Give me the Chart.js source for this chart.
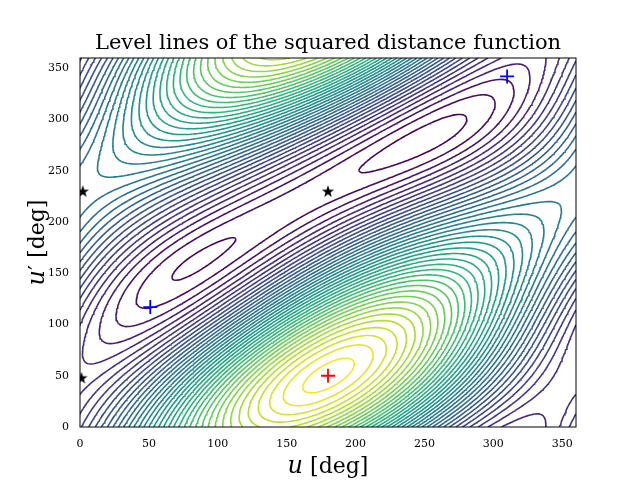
<!DOCTYPE html>
<html><head><meta charset="utf-8">
<script src="https://cdn.jsdelivr.net/npm/chart.js@4"></script>
<style>html,body{margin:0;background:#fff}#c{width:640px;height:480px}</style>
</head><body><div id="c"><canvas id="cv"></canvas></div>
<script>
// orbit parameters: a, e, omega [deg], inclination [deg]
const orbitA = [1.0, 0.2, 0, 0];
const orbitB = [1.3, 0.35, 92, 24];
const levelCount = 40;
const gridStep = 2;
const tickValues = [0, 50, 100, 150, 200, 250, 300, 350];
const blueCrosses = [{x: 51, y: 117}, {x: 310, y: 342}];
const redCrosses = [{x: 180, y: 50}];
const blackStars = [{x: 2, y: 230}, {x: 180, y: 230}, {x: 1, y: 48}];
const viridis = ['#440154','#482878','#3e4989','#31688e','#26828e','#1f9e89','#35b779','#6ece58','#b5de2b','#fde725'];

const rad = Math.PI / 180;
function pos(o, E) {
  const [a, e, om, inc] = o;
  const x = a * (Math.cos(E * rad) - e), y = a * Math.sqrt(1 - e * e) * Math.sin(E * rad);
  const xr = x * Math.cos(om * rad) - y * Math.sin(om * rad);
  const yr = x * Math.sin(om * rad) + y * Math.cos(om * rad);
  return [xr, yr * Math.cos(inc * rad), yr * Math.sin(inc * rad)];
}
function rawDist2(u, v) {
  const p = pos(orbitA, u), q = pos(orbitB, v);
  return (p[0]-q[0])**2 + (p[1]-q[1])**2 + (p[2]-q[2])**2;
}
// anomaly origin: put the maximum where the red cross is
let best = -1, bu = 0, bv = 0;
for (let u = 0; u < 360; u += 1) for (let v = 0; v < 360; v += 1) {
  const d = rawDist2(u, v); if (d > best) { best = d; bu = u; bv = v; }
}
const offU = bu - redCrosses[0].x, offV = bv - redCrosses[0].y;
const dist2 = (u, v) => rawDist2(u + offU, v + offV);

function hex(h){return [1,3,5].map(i=>parseInt(h.substr(i,2),16));}
function cmap(t){
  const s = t * (viridis.length - 1), i = Math.min(Math.floor(s), viridis.length - 2), f = s - i;
  const a = hex(viridis[i]), b = hex(viridis[i+1]);
  return 'rgb(' + a.map((c,k)=>Math.round(c + (b[k]-c)*f)).join(',') + ')';
}

const n = 360 / gridStep + 1;
const G = [];
let fmin = Infinity, fmax = -Infinity;
for (let j = 0; j < n; j++) { G.push([]); for (let i = 0; i < n; i++) {
  const v = dist2(i * gridStep, j * gridStep); G[j].push(v);
  fmin = Math.min(fmin, v); fmax = Math.max(fmax, v);
}}

function contour(L) {
  const pts = [];
  const ip = (x1,y1,v1,x2,y2,v2) => { const t = (L - v1) / (v2 - v1); return {x: x1 + (x2-x1)*t, y: y1 + (y2-y1)*t}; };
  for (let j = 0; j < n - 1; j++) for (let i = 0; i < n - 1; i++) {
    const x0 = i*gridStep, y0 = j*gridStep, x1 = x0+gridStep, y1 = y0+gridStep;
    const a = G[j][i], b = G[j][i+1], c = G[j+1][i+1], d = G[j+1][i];
    const e = [];
    if ((a < L) !== (b < L)) e.push(ip(x0,y0,a,x1,y0,b));
    if ((b < L) !== (c < L)) e.push(ip(x1,y0,b,x1,y1,c));
    if ((c < L) !== (d < L)) e.push(ip(x1,y1,c,x0,y1,d));
    if ((d < L) !== (a < L)) e.push(ip(x0,y1,d,x0,y0,a));
    for (let k = 0; k + 1 < e.length; k += 2) { pts.push(e[k], e[k+1], {x: null, y: null}); }
  }
  return pts;
}

const datasets = [];
for (let k = 0; k < levelCount; k++) {
  const t = (k + 0.5) / levelCount;
  datasets.push({type: 'line', data: contour(fmin + t * (fmax - fmin)), borderColor: cmap(t),
    borderWidth: 1.6, pointRadius: 0, spanGaps: false, parsing: false, order: 5});
}

function starImg() {
  const c = document.createElement('canvas'); c.width = c.height = 14;
  const g = c.getContext('2d'); g.fillStyle = '#000'; g.beginPath();
  for (let k = 0; k < 10; k++) {
    const r = k % 2 ? 2.6 : 6.5, a = -Math.PI/2 + k * Math.PI / 5;
    g.lineTo(7 + r*Math.cos(a), 7.5 + r*Math.sin(a));
  }
  g.closePath(); g.fill(); return c;
}
datasets.push({type: 'scatter', data: blueCrosses, pointStyle: 'cross', pointRadius: 7, borderColor: '#0000ff', borderWidth: 1.8, order: 1});
datasets.push({type: 'scatter', data: redCrosses, pointStyle: 'cross', pointRadius: 7, borderColor: '#ff0000', borderWidth: 1.8, order: 1});
datasets.push({type: 'scatter', data: blackStars, pointStyle: starImg(), order: 1});

const serif = '"DejaVu Serif", "Liberation Serif", serif';
const labels = {
  id: 'labels',
  afterDraw(ch) {
    const g = ch.ctx, ca = ch.chartArea;
    g.save(); g.fillStyle = '#000'; g.textBaseline = 'alphabetic';
    g.font = '21px ' + serif; g.textAlign = 'center';
    g.fillText('Level lines of the squared distance function', (ca.left + ca.right) / 2, 49);
    const drawLab = (parts) => {
      let w = 0; parts.forEach(p => { g.font = p[1]; w += g.measureText(p[0]).width; });
      let x = -w / 2; g.textAlign = 'left';
      parts.forEach(p => { g.font = p[1]; g.fillText(p[0], x, 0); x += g.measureText(p[0]).width; });
    };
    g.translate((ca.left + ca.right) / 2, 473);
    drawLab([['u', 'italic 24px ' + serif], [' [deg]', '22px ' + serif]]);
    g.setTransform(1,0,0,1,0,0); g.scale(ch.currentDevicePixelRatio, ch.currentDevicePixelRatio);
    g.translate(44, (ca.top + ca.bottom) / 2); g.rotate(-Math.PI / 2);
    drawLab([['u', 'italic 24px ' + serif], ['\u2032', '22px ' + serif], [' [deg]', '22px ' + serif]]);
    g.restore();
    g.save(); g.strokeStyle = '#000'; g.lineWidth = 1;
    g.strokeRect(ca.left, ca.top, ca.right - ca.left, ca.bottom - ca.top); g.restore();
  }
};

const tickOpts = {color: '#000', font: {family: serif, size: 11}};
new Chart(document.getElementById('cv'), {
  data: {datasets},
  options: {
    responsive: true, maintainAspectRatio: false, animation: false,
    layout: {padding: {left: 0, right: 64, top: 58, bottom: 0}},
    plugins: {legend: {display: false}, tooltip: {enabled: false}},
    scales: {
      x: {type: 'linear', min: 0, max: 360, grid: {display: false},
        border: {display: false},
        afterBuildTicks: s => { s.ticks = tickValues.map(v => ({value: v})); },
        afterFit: s => { s.height = 53; }, ticks: tickOpts},
      y: {type: 'linear', min: 0, max: 360, grid: {display: false},
        border: {display: false},
        afterBuildTicks: s => { s.ticks = tickValues.map(v => ({value: v})); },
        afterFit: s => { s.width = 80; }, ticks: tickOpts}
    }
  },
  plugins: [labels]
});
</script></body></html>
